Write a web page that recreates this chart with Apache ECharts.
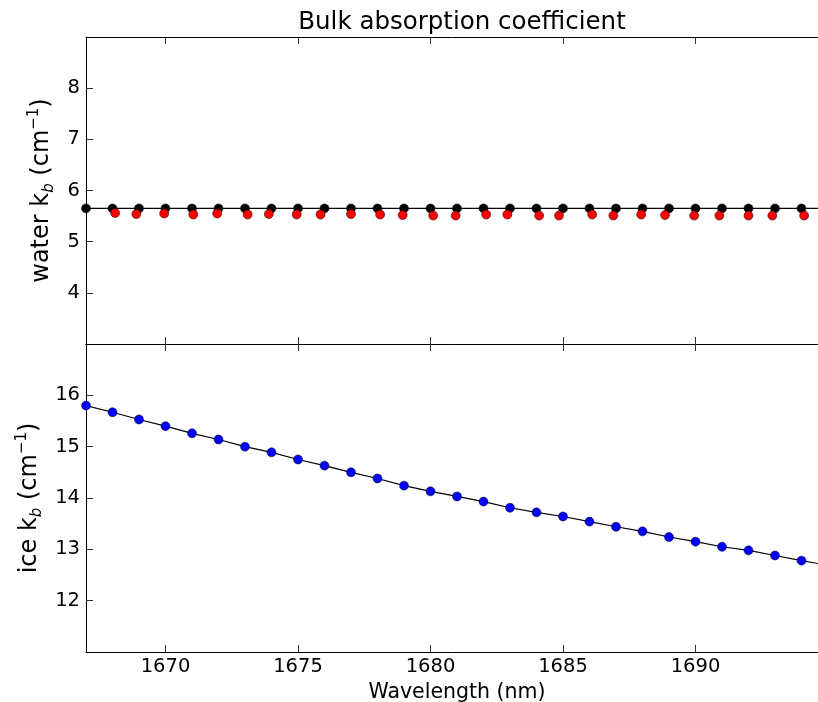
<!DOCTYPE html>
<html>
<head>
<meta charset="utf-8">
<script src="https://cdn.jsdelivr.net/npm/echarts@6/dist/echarts.min.js"></script>
<style>
  html, body { margin: 0; padding: 0; background: #fff; }
  #chart { width: 818px; height: 702px; }
</style>
</head>
<body>
<div id="chart"></div>
<script>
// wavelengths (nm) of the black / blue points
const wavelength = [1667, 1668, 1669, 1670, 1671, 1672, 1673, 1674, 1675, 1676, 1677, 1678, 1679, 1680,
  1681, 1682, 1683, 1684, 1685, 1686, 1687, 1688, 1689, 1690, 1691, 1692, 1693, 1694];
const waterBlack = [5.65, 5.65, 5.65, 5.65, 5.65, 5.65, 5.65, 5.65, 5.65, 5.65, 5.65, 5.65, 5.65, 5.65,
  5.65, 5.65, 5.65, 5.65, 5.65, 5.65, 5.65, 5.65, 5.65, 5.65, 5.65, 5.65, 5.65, 5.65];
// red points sit a little off the integer wavelengths
const redWavelength = [1668.1, 1668.9, 1669.95, 1671.05, 1671.95, 1673.1, 1673.9, 1674.95, 1675.85, 1677.0,
  1678.1, 1678.95, 1680.1, 1680.95, 1682.1, 1682.9, 1684.1, 1684.85, 1686.1, 1686.9, 1687.95, 1688.85,
  1689.95, 1690.9, 1692.0, 1692.9, 1694.1];
const waterRed = [5.56, 5.54, 5.55, 5.53, 5.55, 5.53, 5.54, 5.53, 5.53, 5.54, 5.53, 5.52, 5.51, 5.51,
  5.53, 5.53, 5.51, 5.51, 5.53, 5.51, 5.53, 5.52, 5.51, 5.51, 5.51, 5.51, 5.51];
const waterFitX = [1666, 1696];
const waterFitY = [5.65, 5.65];
const iceK = [15.80, 15.67, 15.53, 15.40, 15.26, 15.14, 15.00, 14.89, 14.75, 14.63, 14.50, 14.38, 14.24, 14.13,
  14.03, 13.93, 13.81, 13.72, 13.64, 13.54, 13.44, 13.35, 13.24, 13.15, 13.05, 12.98, 12.88, 12.78];
const iceFitX = [...wavelength, 1695];
const iceFitY = [...iceK, 12.69];

const xTicks = [1670, 1675, 1680, 1685, 1690];
const waterTicks = [4, 5, 6, 7, 8];
const iceTicks = [12, 13, 14, 15, 16];

const FONT = 'DejaVu Sans';
const zip = (xs, ys) => xs.map((x, i) => [x, ys[i]]);

const chart = echarts.init(document.getElementById('chart'));

function xAxis(grid, position, labels) {
  return {
    type: 'value', gridIndex: grid, position: position,
    min: 1667, max: 1695,
    axisLine: { show: true, onZero: false, lineStyle: { color: '#000', width: 1 } },
    axisTick: { show: true, inside: true, length: 7, customValues: xTicks, lineStyle: { color: '#333' } },
    axisLabel: {
      show: labels, customValues: xTicks, margin: 5, formatter: (v) => String(v),
      color: '#000', fontFamily: FONT, fontSize: 19.5
    },
    splitLine: { show: false },
    name: labels ? 'Wavelength (nm)' : '',
    nameLocation: 'middle', nameGap: 30,
    nameTextStyle: { color: '#000', fontFamily: FONT, fontSize: 20.5 }
  };
}

const nameRich = {
  s: { fontFamily: FONT, fontSize: 15, fontStyle: 'italic', verticalAlign: 'bottom', color: '#000' },
  p: { fontFamily: FONT, fontSize: 15, verticalAlign: 'top', color: '#000' }
};

function yAxis(grid, min, max, ticks, name, gap) {
  return {
    type: 'value', gridIndex: grid, min: min, max: max,
    axisLine: { show: true, onZero: false, lineStyle: { color: '#000', width: 1 } },
    axisTick: { show: true, inside: true, length: 7, customValues: ticks, lineStyle: { color: '#333' } },
    axisLabel: { customValues: ticks, margin: 6, color: '#000', fontFamily: FONT, fontSize: 19.5 },
    splitLine: { show: false },
    name: name, nameLocation: 'middle', nameGap: gap,
    nameTextStyle: { color: '#000', fontFamily: FONT, fontSize: 24, lineHeight: 30, rich: nameRich }
  };
}

chart.setOption({
  animation: false,
  backgroundColor: '#fff',
  title: {
    text: 'Bulk absorption coefficient',
    left: 457, top: 5, textAlign: 'center',
    textStyle: { color: '#000', fontFamily: FONT, fontSize: 24.5, fontWeight: 'normal' }
  },
  // plot area runs a little past the right edge of the picture
  grid: [
    { left: 86, width: 742, top: 37, height: 307, outerBoundsMode: 'none', containLabel: false },
    { left: 86, width: 742, top: 344, height: 308, outerBoundsMode: 'none', containLabel: false }
  ],
  xAxis: [xAxis(0, 'bottom', false), xAxis(0, 'top', false), xAxis(1, 'bottom', true), xAxis(1, 'top', false)],
  yAxis: [
    yAxis(0, 3, 9, waterTicks, 'water k{s|b} (cm{p|\u22121})', 28),
    yAxis(1, 11, 17, iceTicks, 'ice k{s|b} (cm{p|\u22121})', 39)
  ],
  series: [
    {
      type: 'line', xAxisIndex: 0, yAxisIndex: 0, data: zip(waterFitX, waterFitY),
      symbol: 'none', lineStyle: { color: '#000', width: 1.2 }, z: 2
    },
    {
      type: 'scatter', xAxisIndex: 0, yAxisIndex: 0, data: zip(wavelength, waterBlack),
      symbolSize: 9, itemStyle: { color: '#000', borderColor: '#000', borderWidth: 0.5, opacity: 1 }, z: 3
    },
    {
      type: 'scatter', xAxisIndex: 0, yAxisIndex: 0, data: zip(redWavelength, waterRed),
      symbolSize: 9, itemStyle: { color: '#ff0000', borderColor: '#000', borderWidth: 0.5, opacity: 1 }, z: 4
    },
    {
      type: 'line', xAxisIndex: 2, yAxisIndex: 1, data: zip(iceFitX, iceFitY),
      symbol: 'none', lineStyle: { color: '#000', width: 1.2 }, z: 2
    },
    {
      type: 'scatter', xAxisIndex: 2, yAxisIndex: 1, data: zip(wavelength, iceK),
      symbolSize: 9, itemStyle: { color: '#0000ff', borderColor: '#000', borderWidth: 0.5, opacity: 1 }, z: 3
    }
  ]
});
</script>
</body>
</html>
